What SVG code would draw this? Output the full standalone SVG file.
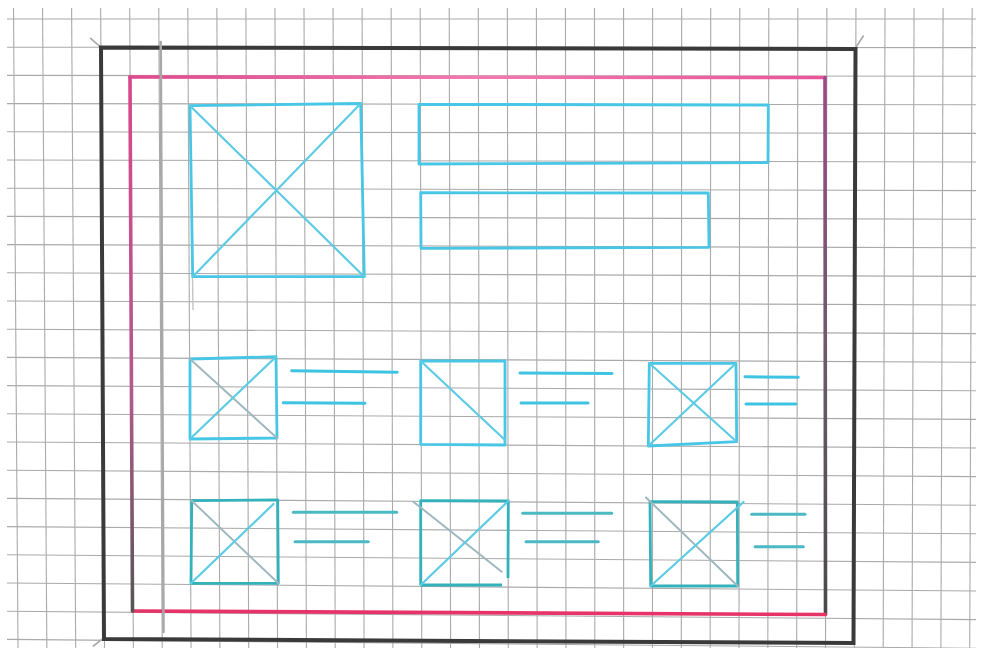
<svg xmlns="http://www.w3.org/2000/svg" width="981" height="648" viewBox="0 0 981 648">
<defs>
<style>
.grid line{stroke:#aaaaaa;stroke-width:1.1;fill:none}
.frame{fill:none;stroke:#3a3a3a;stroke-width:4;stroke-linejoin:miter}
.pencil{stroke:#a9a9a9;stroke-width:1.6;fill:none;stroke-linecap:round}
.box{fill:none;stroke:#48c6e6;stroke-width:2.8;stroke-linejoin:round}
.box2{fill:none;stroke:#33b2bc;stroke-width:2.8;stroke-linejoin:round}
.diag{stroke:#5ccbe4;stroke-width:2.2;fill:none;stroke-linecap:round}
.diagg{stroke:#9fb8bf;stroke-width:2;fill:none;stroke-linecap:round}
.txt{stroke:#3fc3e3;stroke-width:3;stroke-linecap:round;fill:none}
.txt2{stroke:#4bb9c4;stroke-width:3;stroke-linecap:round;fill:none}
</style>
<linearGradient id="pinkLeft" gradientUnits="userSpaceOnUse" x1="0" y1="77" x2="0" y2="611">
<stop offset="0" stop-color="#d9468a"/><stop offset="0.6" stop-color="#b05a8a"/><stop offset="1" stop-color="#555"/>
</linearGradient>
<linearGradient id="pinkRight" gradientUnits="userSpaceOnUse" x1="0" y1="77" x2="0" y2="614">
<stop offset="0" stop-color="#9b4a86"/><stop offset="0.5" stop-color="#6e5a6c"/><stop offset="1" stop-color="#4a4a4a"/>
</linearGradient>
<linearGradient id="pinkTop" gradientUnits="userSpaceOnUse" x1="130" y1="0" x2="825" y2="0">
<stop offset="0" stop-color="#e04a8e"/><stop offset="0.5" stop-color="#f27aae"/><stop offset="1" stop-color="#e8559a"/>
</linearGradient>
</defs>
<rect x="0" y="0" width="981" height="648" fill="#ffffff"/>
<g id="grid" class="grid">
<line x1="13.5" y1="8" x2="18" y2="648"/>
<line x1="42.55" y1="8" x2="46.84" y2="648"/>
<line x1="71.6" y1="8" x2="75.68" y2="648"/>
<line x1="100.65" y1="8" x2="104.52" y2="648"/>
<line x1="129.7" y1="8" x2="133.36" y2="648"/>
<line x1="158.75" y1="8" x2="162.2" y2="648"/>
<line x1="187.8" y1="8" x2="191.04" y2="648"/>
<line x1="216.85" y1="8" x2="219.88" y2="648"/>
<line x1="245.9" y1="8" x2="248.72" y2="648"/>
<line x1="274.95" y1="8" x2="277.56" y2="648"/>
<line x1="304" y1="8" x2="306.4" y2="648"/>
<line x1="333.05" y1="8" x2="335.24" y2="648"/>
<line x1="362.1" y1="8" x2="364.08" y2="648"/>
<line x1="391.15" y1="8" x2="392.92" y2="648"/>
<line x1="420.2" y1="8" x2="421.76" y2="648"/>
<line x1="449.25" y1="8" x2="450.6" y2="648"/>
<line x1="478.3" y1="8" x2="479.44" y2="648"/>
<line x1="507.35" y1="8" x2="508.28" y2="648"/>
<line x1="536.4" y1="8" x2="537.12" y2="648"/>
<line x1="565.45" y1="8" x2="565.96" y2="648"/>
<line x1="594.5" y1="8" x2="594.8" y2="648"/>
<line x1="623.55" y1="8" x2="623.64" y2="648"/>
<line x1="652.6" y1="8" x2="652.48" y2="648"/>
<line x1="681.65" y1="8" x2="681.32" y2="648"/>
<line x1="710.7" y1="8" x2="710.16" y2="648"/>
<line x1="739.75" y1="8" x2="739" y2="648"/>
<line x1="768.8" y1="8" x2="767.84" y2="648"/>
<line x1="797.85" y1="8" x2="796.68" y2="648"/>
<line x1="826.9" y1="8" x2="825.52" y2="648"/>
<line x1="855.95" y1="8" x2="854.36" y2="648"/>
<line x1="885" y1="8" x2="883.2" y2="648"/>
<line x1="914.05" y1="8" x2="912.04" y2="648"/>
<line x1="943.1" y1="8" x2="940.88" y2="648"/>
<line x1="972.15" y1="8" x2="969.72" y2="648"/>
<line x1="7" y1="19" x2="976" y2="19"/>
<line x1="7" y1="47.2" x2="976" y2="47.6"/>
<line x1="7" y1="75.4" x2="976" y2="76.2"/>
<line x1="7" y1="103.6" x2="976" y2="104.8"/>
<line x1="7" y1="131.8" x2="976" y2="133.4"/>
<line x1="7" y1="160" x2="976" y2="162"/>
<line x1="7" y1="188.2" x2="976" y2="190.6"/>
<line x1="7" y1="216.4" x2="976" y2="219.2"/>
<line x1="7" y1="244.6" x2="976" y2="247.8"/>
<line x1="7" y1="272.8" x2="976" y2="276.4"/>
<line x1="7" y1="301" x2="976" y2="305"/>
<line x1="7" y1="329.2" x2="976" y2="333.6"/>
<line x1="7" y1="357.4" x2="976" y2="362.2"/>
<line x1="7" y1="385.6" x2="976" y2="390.8"/>
<line x1="7" y1="413.8" x2="976" y2="419.4"/>
<line x1="7" y1="442" x2="976" y2="448"/>
<line x1="7" y1="470.2" x2="976" y2="476.6"/>
<line x1="7" y1="498.4" x2="976" y2="505.2"/>
<line x1="7" y1="526.6" x2="976" y2="533.8"/>
<line x1="7" y1="554.8" x2="976" y2="562.4"/>
<line x1="7" y1="583" x2="976" y2="591"/>
<line x1="7" y1="611.2" x2="976" y2="619.6"/>
<line x1="7" y1="639.4" x2="976" y2="648.2"/>
</g>
<g id="outer-frame">
<line class="pencil" x1="90.7" y1="38.3" x2="100" y2="46.7"/>
<line class="pencil" x1="863.3" y1="36" x2="856" y2="47.3"/>
<line class="pencil" x1="93.3" y1="646" x2="103.3" y2="638.3"/>
<path class="frame" d="M101,47.5 L855.5,49 L853.5,643 L104,639 Z"/>
</g>
<g id="inner-frame" fill="none" stroke-width="3.6" stroke-linecap="round">
<line x1="130" y1="77" x2="825" y2="77.5" stroke="url(#pinkTop)"/>
<line x1="825" y1="77.5" x2="825.5" y2="614.5" stroke="url(#pinkRight)"/>
<line x1="825.5" y1="614.5" x2="132.5" y2="611" stroke="#e63468"/>
<line x1="132.5" y1="611" x2="130" y2="77" stroke="url(#pinkLeft)"/>
</g>
<g id="margin-guide">
<line x1="160.7" y1="42" x2="163.5" y2="632" stroke="#a8a8a8" stroke-width="2.6" stroke-linecap="round"/>
<line x1="192.5" y1="278" x2="193" y2="310" stroke="#c4c4c4" stroke-width="1.4"/>
</g>
<g id="hero-image">
<path class="box" d="M190,105.7 L360.7,103.5 L364.3,276.7 L192.7,276.7 Z"/>
<line class="diag" x1="190" y1="105.7" x2="364.3" y2="276.7"/>
<line class="diag" x1="360.7" y1="103.5" x2="192.7" y2="276.7"/>
</g>
<g id="title-bar">
<path class="box" d="M419,104.3 L768.3,105 L768,162.7 L419,164 Z"/>
</g>
<g id="subtitle-bar">
<path class="box" d="M420.7,192.7 L708.3,193 L709,247.3 L421,248.3 Z"/>
</g>
<g id="card-1">
<path class="box" d="M190,359 L276,356.7 L277,438 L190,439 Z"/>
<line class="diagg" x1="190" y1="359" x2="277" y2="438"/>
<line class="diag" x1="276" y1="356.7" x2="190" y2="439"/>
<line class="txt" x1="291.7" y1="370.7" x2="397.3" y2="372.3"/>
<line class="txt" x1="283.3" y1="402.7" x2="365" y2="403.3"/>
</g>
<g id="card-2">
<path class="box" d="M420.7,361 L505,361 L505,445 L420.7,444.3 Z"/>
<line class="diag" x1="420.7" y1="361" x2="505" y2="440"/>
<line class="txt" x1="520" y1="373" x2="612" y2="373.5"/>
<line class="txt" x1="521" y1="403" x2="588" y2="403"/>
</g>
<g id="card-3">
<path class="box" d="M649.3,363.3 L736,363.3 L736.7,441.7 L648.3,446 Z"/>
<line class="diag" x1="649.3" y1="363.3" x2="736.7" y2="441.7"/>
<line class="diag" x1="736" y1="363.3" x2="648.3" y2="446"/>
<line class="txt" x1="745" y1="376.7" x2="798.3" y2="377.3"/>
<line class="txt" x1="746" y1="404" x2="796" y2="404"/>
</g>
<g id="card-4">
<path class="box2" d="M191.7,500.7 L277.7,500 L278.3,583.3 L191,583.3 Z"/>
<line class="diagg" x1="191.7" y1="500.7" x2="278.3" y2="583.3"/>
<line class="diag" x1="273.5" y1="504" x2="191" y2="583.3"/>
<line class="txt2" x1="293.3" y1="512.3" x2="396.7" y2="512.3"/>
<line class="txt2" x1="295" y1="541.7" x2="368.3" y2="541.7"/>
</g>
<g id="card-5">
<path class="box2" d="M420.7,585 L420.7,500.7 L508.3,501 L508,578"/>
<path class="box2" d="M420.7,585 L502,585"/>
<line class="diagg" x1="413.3" y1="501.7" x2="501.7" y2="571.7"/>
<line class="diag" x1="508.3" y1="501" x2="420.7" y2="585"/>
<line class="txt2" x1="522.7" y1="513.3" x2="611.7" y2="513.3"/>
<line class="txt2" x1="526" y1="541.7" x2="598.3" y2="541.7"/>
</g>
<g id="card-6">
<path class="box2" d="M650,501.7 L737.3,502 L737.7,586 L650.7,586 Z"/>
<line class="diagg" x1="646" y1="497.5" x2="737.7" y2="586"/>
<line class="diag" x1="743.5" y1="502" x2="650.7" y2="586"/>
<line class="txt2" x1="751.7" y1="514.3" x2="805" y2="514.3"/>
<line class="txt2" x1="755" y1="546.7" x2="803.3" y2="546.7"/>
</g>
</svg>
